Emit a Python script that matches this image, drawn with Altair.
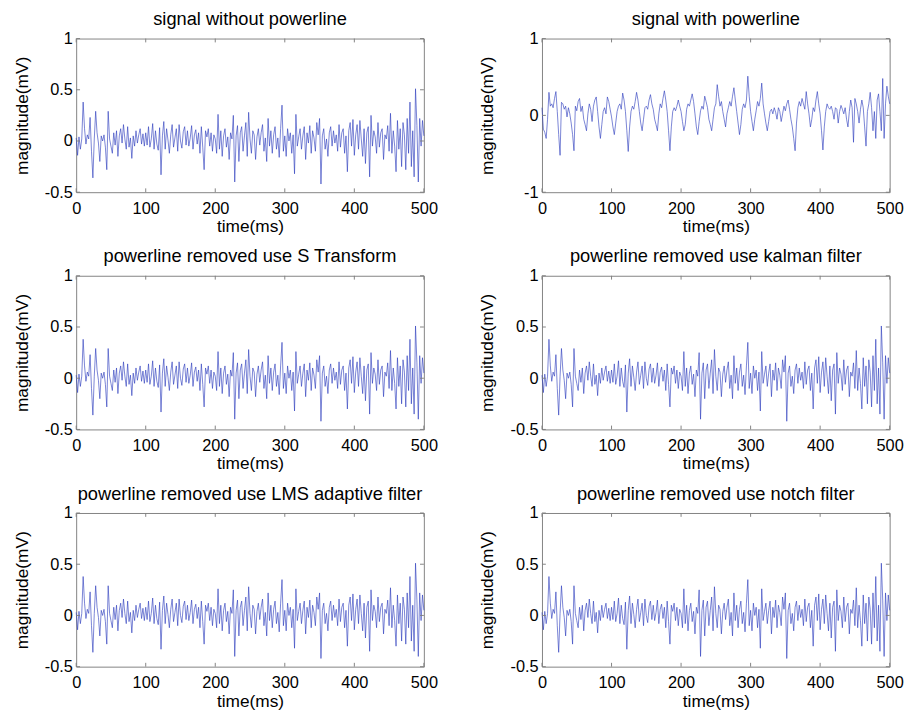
import altair as alt
import pandas as pd

# sampling times (ms)
time_ms = list(range(0, 501, 2))

# ECG-like signal without powerline interference (mV), read every 2 ms
clean = [
    0.03, -0.14, 0.04, -0.08, 0.02, 0.38, 0.12, -0.03, 0.06, 0.02,
    0.23, -0.10, -0.36, 0.02, 0.29, 0.08, -0.02, -0.20, 0.05, 0.00,
    0.06, -0.06, -0.28, 0.29, 0.02, -0.05, -0.12, 0.08, -0.04, 0.10,
    -0.15, 0.05, 0.12, -0.02, 0.16, 0.02, -0.08, 0.14, -0.06, 0.03,
    -0.17, 0.05, -0.05, 0.10, -0.02, 0.06, 0.12, -0.03, 0.07, -0.05,
    0.08, -0.04, 0.14, -0.06, 0.02, 0.17, -0.08, 0.10, -0.03, -0.09,
    0.13, -0.33, 0.05, 0.19, -0.08, 0.12, 0.01, -0.12, 0.06, 0.16,
    -0.06, 0.03, 0.12, -0.10, 0.16, 0.00, -0.07, 0.09, 0.14, -0.04,
    0.10, -0.05, 0.03, 0.15, -0.08, 0.06, 0.11, -0.03, 0.08, -0.12,
    0.14, -0.06, -0.28, 0.10, 0.04, 0.12, -0.05, 0.08, -0.10, 0.06,
    0.02, -0.12, 0.26, -0.08, 0.10, -0.15, 0.05, 0.12, -0.06, 0.04,
    -0.18, 0.08, 0.02, 0.25, -0.40, 0.05, 0.15, -0.20, 0.08, 0.14,
    -0.10, 0.05, 0.18, -0.15, 0.28, 0.02, -0.12, 0.10, 0.06, -0.18,
    0.04, 0.12, -0.04, 0.08, 0.16, -0.10, 0.03, -0.20, 0.22, -0.05,
    0.10, -0.12, 0.06, 0.14, -0.08, 0.03, -0.16, 0.12, 0.35, -0.10,
    0.05, -0.15, 0.12, 0.00, 0.08, -0.12, 0.06, -0.32, 0.26, -0.05,
    0.04, 0.12, -0.08, 0.05, 0.14, -0.18, 0.08, -0.02, 0.15, -0.12,
    0.10, 0.03, -0.10, 0.18, 0.06, 0.22, -0.42, 0.05, 0.12, -0.08,
    0.02, -0.15, 0.08, 0.14, -0.05, 0.10, -0.02, 0.06, -0.10, 0.16,
    -0.06, 0.08, 0.12, -0.12, 0.05, -0.30, 0.10, 0.18, -0.05, 0.21,
    -0.14, 0.06, 0.16, -0.08, 0.20, 0.02, -0.15, 0.12, -0.22, 0.08,
    0.14, -0.35, 0.25, -0.05, 0.10, 0.04, -0.12, 0.18, -0.06, 0.08,
    0.12, -0.18, 0.06, 0.02, 0.15, -0.10, 0.27, -0.12, 0.10, -0.05,
    -0.30, 0.20, -0.08, 0.12, -0.25, 0.18, 0.06, -0.28, 0.22, -0.12,
    0.38, -0.25, 0.10, -0.35, 0.51, 0.15, -0.40, 0.22, -0.05, 0.20,
    0.05,
]

# signal with powerline interference (mV), read every 2 ms
with_powerline = [
    0.10, -0.18, -0.22, -0.30, -0.05, 0.30, 0.12, 0.15, 0.10, 0.22,
    0.31, 0.05, -0.25, -0.52, 0.17, 0.15, 0.08, 0.12, -0.02, 0.10,
    0.02, -0.10, -0.25, -0.46, 0.12, 0.06, 0.18, 0.22, 0.05, 0.12,
    -0.05, -0.12, -0.20, 0.02, 0.15, 0.08, -0.08, 0.12, 0.20, 0.24,
    0.05, -0.15, -0.30, -0.12, 0.05, 0.10, 0.02, 0.24, 0.18, 0.08,
    -0.02, -0.15, -0.25, -0.10, 0.05, 0.12, 0.15, 0.08, 0.29, 0.20,
    0.05, -0.20, -0.47, -0.15, 0.05, 0.12, 0.08, 0.18, 0.30, 0.20,
    0.05, -0.10, -0.20, -0.05, 0.10, 0.12, 0.08, 0.20, 0.27, 0.15,
    0.08, -0.05, -0.12, -0.20, 0.02, 0.15, 0.10, 0.22, 0.32, 0.20,
    0.05, -0.20, -0.46, -0.15, 0.05, 0.10, 0.06, 0.12, 0.20, 0.12,
    0.05, -0.08, -0.20, -0.12, 0.08, 0.15, 0.12, 0.20, 0.28, 0.18,
    0.02, -0.15, -0.25, -0.08, 0.06, 0.12, 0.08, 0.25, 0.18, 0.10,
    -0.05, -0.12, -0.20, -0.05, 0.10, 0.15, 0.40, 0.25, 0.12, 0.18,
    0.05, -0.05, -0.15, 0.02, 0.10, 0.18, 0.12, 0.25, 0.36, 0.20,
    0.05, -0.10, -0.25, -0.12, 0.08, 0.15, 0.10, 0.20, 0.51, 0.25,
    0.05, -0.08, -0.20, -0.05, 0.06, 0.18, 0.12, 0.22, 0.42, 0.15,
    0.02, -0.10, -0.20, -0.08, 0.05, 0.08, 0.02, 0.10, 0.04, -0.05,
    0.10, 0.05, -0.08, 0.02, 0.12, 0.06, 0.15, 0.20, 0.08, -0.05,
    -0.15, -0.30, -0.46, -0.10, 0.10, 0.18, 0.12, 0.22, 0.15, 0.08,
    0.31, 0.15, 0.02, -0.15, -0.05, 0.10, 0.05, 0.20, 0.31, 0.15,
    0.02, -0.20, -0.45, -0.15, 0.05, 0.15, 0.10, 0.08, 0.12, 0.05,
    -0.05, 0.10, 0.08, -0.10, 0.05, 0.13, 0.08, 0.02, 0.10, -0.05,
    -0.15, 0.05, 0.20, 0.10, -0.35, 0.22, 0.15, 0.05, -0.10, 0.08,
    0.20, 0.10, -0.15, -0.40, 0.05, 0.15, 0.30, 0.10, -0.20, 0.05,
    -0.30, 0.20, 0.28, 0.05, -0.20, 0.48, -0.30, 0.15, 0.38, 0.25,
    0.15,
]

# filtered outputs (visually indistinguishable from the clean signal)
s_transform = clean
kalman = clean
lms = clean
notch = clean

titles = [
    "signal without powerline",
    "signal with powerline",
    "powerline removed use S Transform",
    "powerline removed use kalman filter",
    "powerline removed use LMS adaptive filter",
    "powerline removed use notch filter",
]
x_ticks = [0, 100, 200, 300, 400, 500]
y_ticks_mv = [-0.5, 0, 0.5, 1]
y_ticks_pl = [-1, 0, 1]

W, H = 362, 160
LINE = "#2b3bbd"
FRAME = "#808080"
FONT = "Liberation Sans"
TICK = 4
LBL = 17
TTL = 18


def panel(title, values, yticks, ydom):
    df = pd.DataFrame({"t": time_ms, "v": values})
    xt = pd.DataFrame({"t": x_ticks})
    yt = pd.DataFrame({"v": yticks})
    x_enc = alt.X(
        "t:Q",
        scale=alt.Scale(domain=[0, 500], nice=False, zero=False),
        axis=alt.Axis(values=x_ticks, title="time(ms)", ticks=False, tickSize=0,
                      domain=False, grid=False, labelPadding=9, titlePadding=2,
                      labelFlush=False),
    )
    y_enc = alt.Y(
        "v:Q",
        scale=alt.Scale(domain=ydom, nice=False, zero=False),
        axis=alt.Axis(values=yticks, title="magnitude(mV)", ticks=False, tickSize=0,
                      domain=False, grid=False, labelPadding=4, titlePadding=9,
                      minExtent=38, maxExtent=38, labelFlush=False,
                      labelExpr="'' + datum.value"),
    )
    line = alt.Chart(df).mark_line(color=LINE, strokeWidth=0.65).encode(x=x_enc, y=y_enc)
    top_t = alt.Chart(xt).mark_rule(color=FRAME, strokeWidth=1).encode(
        x=x_enc, y=alt.value(0), y2=alt.value(TICK))
    bot_t = alt.Chart(xt).mark_rule(color=FRAME, strokeWidth=1).encode(
        x=x_enc, y=alt.value(H), y2=alt.value(H - TICK))
    left_t = alt.Chart(yt).mark_rule(color=FRAME, strokeWidth=1).encode(
        y=y_enc, x=alt.value(0), x2=alt.value(TICK))
    right_t = alt.Chart(yt).mark_rule(color=FRAME, strokeWidth=1).encode(
        y=y_enc, x=alt.value(W), x2=alt.value(W - TICK))
    return alt.layer(line, top_t, bot_t, left_t, right_t).properties(
        width=W, height=H,
        title=alt.TitleParams(title, fontSize=19, fontWeight="normal", font=FONT,
                              offset=1, color="black"),
    )


series = [clean, with_powerline, s_transform, kalman, lms, notch]
panels = []
for i, (ttl, vals) in enumerate(zip(titles, series)):
    if i == 1:
        panels.append(panel(ttl, vals, y_ticks_pl, [-1, 1]))
    else:
        panels.append(panel(ttl, vals, y_ticks_mv, [-0.5, 1]))

rows = [alt.hconcat(panels[2 * r], panels[2 * r + 1], spacing=42) for r in range(3)]

chart = alt.vconcat(*rows, spacing=11).properties(
    padding={"left": 5, "top": -13, "right": 2, "bottom": 2},
    background="white",
).configure_view(
    stroke=FRAME, strokeWidth=1
).configure_axis(
    labelFont=FONT, titleFont=FONT, labelFontSize=LBL, titleFontSize=TTL,
    titleFontWeight="normal", labelColor="black", titleColor="black",
)

chart.save("out.html", embed_options={"renderer": "svg", "actions": False})
